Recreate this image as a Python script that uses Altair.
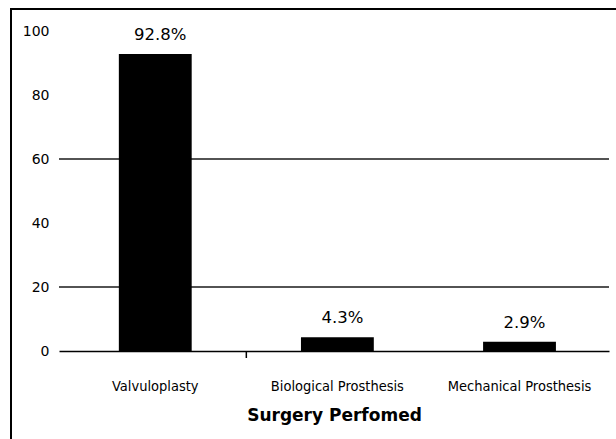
import altair as alt
import pandas as pd

# Surgery performed, share of patients (%)
procedures = ["Valvuloplasty", "Biological Prosthesis", "Mechanical Prosthesis"]
percentages = [92.8, 4.3, 2.9]
percent_labels = ["92.8%", "4.3%", "2.9%"]
y_tick_values = [0, 20, 40, 60, 80, 100]
grid_levels = [20, 60]

bars_df = pd.DataFrame({"procedure": procedures, "percent": percentages, "label": percent_labels})
grid_df = pd.DataFrame({"percent": grid_levels})
frame_df = pd.DataFrame({"frame": [0]})

PLOT_W, PLOT_H = 550, 320
PAD_INNER, PAD_OUTER = 0.6, 0.31
step = PLOT_W / (len(procedures) - PAD_INNER + 2 * PAD_OUTER)

x_scale = alt.Scale(domain=procedures, paddingInner=PAD_INNER, paddingOuter=PAD_OUTER, align=0.53)
y_scale = alt.Scale(domain=[0, 100], nice=False)

x_axis = alt.Axis(
    title="Surgery Perfomed",
    labelAngle=0,
    ticks=False,
    tickSize=0,
    grid=False,
    labelPadding=28,
    labelFont="DejaVu Sans Condensed, DejaVu Sans",
    labelFontSize=14.5,
    labelColor="black",
    titleFont="DejaVu Sans",
    titleFontWeight="bold",
    titleFontSize=17,
    titleColor="black",
    titlePadding=15,
    domainColor="black",
    domainWidth=1.5,
)
y_axis = alt.Axis(
    values=y_tick_values,
    title=None,
    domain=False,
    ticks=False,
    grid=False,
    labelPadding=10,
    labelFont="DejaVu Sans",
    labelFontSize=14,
    labelColor="black",
)

x_enc = alt.X("procedure:N", sort=procedures, scale=x_scale, axis=x_axis)
y_enc = alt.Y("percent:Q", scale=y_scale, axis=y_axis)

base = alt.Chart(bars_df)

grid = alt.Chart(grid_df).mark_rule(color="#1a1a1a", strokeWidth=1.5).encode(y=y_enc)

bars = base.mark_bar(color="black").encode(x=x_enc, y=y_enc)

values_text = base.mark_text(
    dy=-11, dx=5, baseline="bottom", align="center",
    font="DejaVu Sans", fontSize=16.5, color="black",
).encode(x=x_enc, y=y_enc, text="label:N")

# single category-boundary tick below the baseline, midway in the gap
boundary_tick = base.transform_filter(
    alt.datum.procedure == procedures[1]
).mark_rule(color="black", strokeWidth=1.5, xOffset=-step * PAD_INNER / 2).encode(
    x=alt.X("procedure:N", sort=procedures, scale=x_scale, axis=x_axis, bandPosition=0),
    y=alt.value(PLOT_H),
    y2=alt.value(PLOT_H + 7),
)

# outer frame around the figure
frame = alt.Chart(frame_df).mark_rect(
    fillOpacity=0, stroke="black", strokeWidth=2
).encode(
    x=alt.value(-48), x2=alt.value(580), y=alt.value(-22), y2=alt.value(440)
)

chart = (
    alt.layer(grid, bars, values_text, boundary_tick, frame)
    .properties(
        width=PLOT_W,
        height=PLOT_H,
        padding={"left": 59, "top": 31, "right": 7, "bottom": 88},
        autosize=alt.AutoSizeParams(type="none"),
        background="white",
    )
    .configure_view(stroke=None)
)

chart.save("out.html", embed_options={"renderer": "svg", "actions": False})
